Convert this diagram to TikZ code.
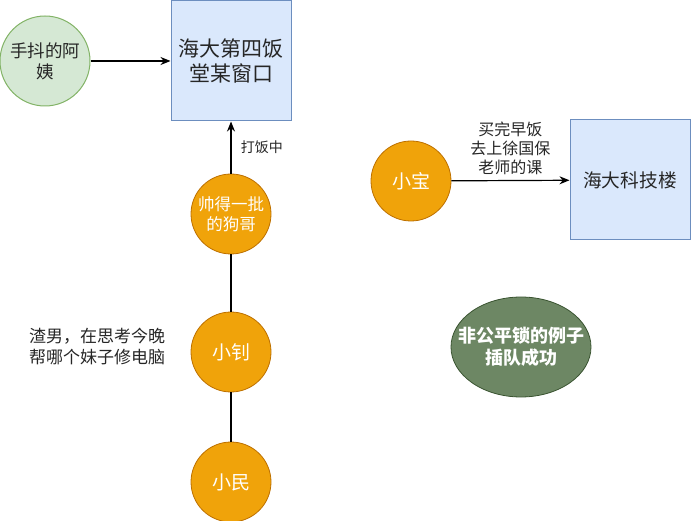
\documentclass[tikz,border=0pt]{standalone}
\usepackage{fontspec}
\setmainfont{Noto Sans CJK SC}
\usetikzlibrary{arrows.meta, positioning, shapes.geometric}
\definecolor{boxfill}{HTML}{DAE8FC}
\definecolor{boxline}{HTML}{6C8EBF}
\definecolor{auntfill}{HTML}{D5E8D4}
\definecolor{auntline}{HTML}{82B366}
\definecolor{orgfill}{HTML}{F0A30A}
\definecolor{orgline}{HTML}{BD7000}
\definecolor{tipfill}{HTML}{6D8764}
\definecolor{tipline}{HTML}{3A5431}

\begin{document}
\begin{tikzpicture}[
  x=1pt, y=-1pt,
  place/.style={draw=boxline, fill=boxfill, line width=1pt, minimum width=120pt,
    minimum height=120pt, inner sep=0pt, align=center, text=black!85},
  aunt/.style={circle, draw=auntline, fill=auntfill, line width=1pt, minimum size=90pt,
    inner sep=0pt, align=center, font=\fontsize{17.5}{21}\selectfont, text=black!85},
  person/.style={circle, draw=orgline, fill=orgfill, line width=0.8pt,
    minimum size=80pt, inner sep=0pt, align=center, text=white, font=\fontsize{19}{23}\selectfont},
  note/.style={align=center, font=\fontsize{16}{19}\selectfont, text=black!85},
  arr/.style={-{Stealth[length=10pt, width=8pt]}, line width=1.2pt},
  link/.style={line width=1.2pt},
]
\useasboundingbox (0,0) rectangle (691,521);

% canteen window and the queue
\node[place, font=\fontsize{21}{25}\selectfont] (window) at (231,61) {海大第四饭\\堂某窗口};
\node[aunt] (aunt) at (45,61) {手抖的阿\\姨};
\draw[arr] (aunt) -- (window);

\node[person, font=\fontsize{16.5}{20}\selectfont] (gouge) at (231,214) {帅得一批\\的狗哥};
\node[person] (xzhao) at (231,352) {小钊};
\node[person] (xmin) at (231,482) {小民};
\draw[arr] (gouge) -- node[note, font=\fontsize{14}{17}\selectfont, right=6pt] {打饭中} (window);
\draw[link] (xzhao) -- (gouge);
\draw[link] (xmin) -- (xzhao);
\node[note, font=\fontsize{17}{21}\selectfont, left=22pt of xzhao, yshift=5pt] (zhanan) {渣男，在思考今晚\\帮哪个妹子修电脑};

% cutting in
\node[place, font=\fontsize{18.7}{22}\selectfont] (lab) at (630,180) {海大科技楼};
\node[person] (xbao) at (411,181) {小宝};
\draw[arr] (xbao) -- node[note, above=2pt] {买完早饭\\去上徐国保\\老师的课} (lab);

\node[ellipse, draw=tipline, fill=tipfill, line width=0.8pt, minimum width=140pt, minimum height=100pt,
  inner sep=0pt] (tip) at (521,347) {};
\node[align=center, text=white, font=\bfseries\fontsize{18}{22}\selectfont] (tiptext) at (tip)
  {非公平锁的例子\\插队成功};
\end{tikzpicture}
\end{document}
